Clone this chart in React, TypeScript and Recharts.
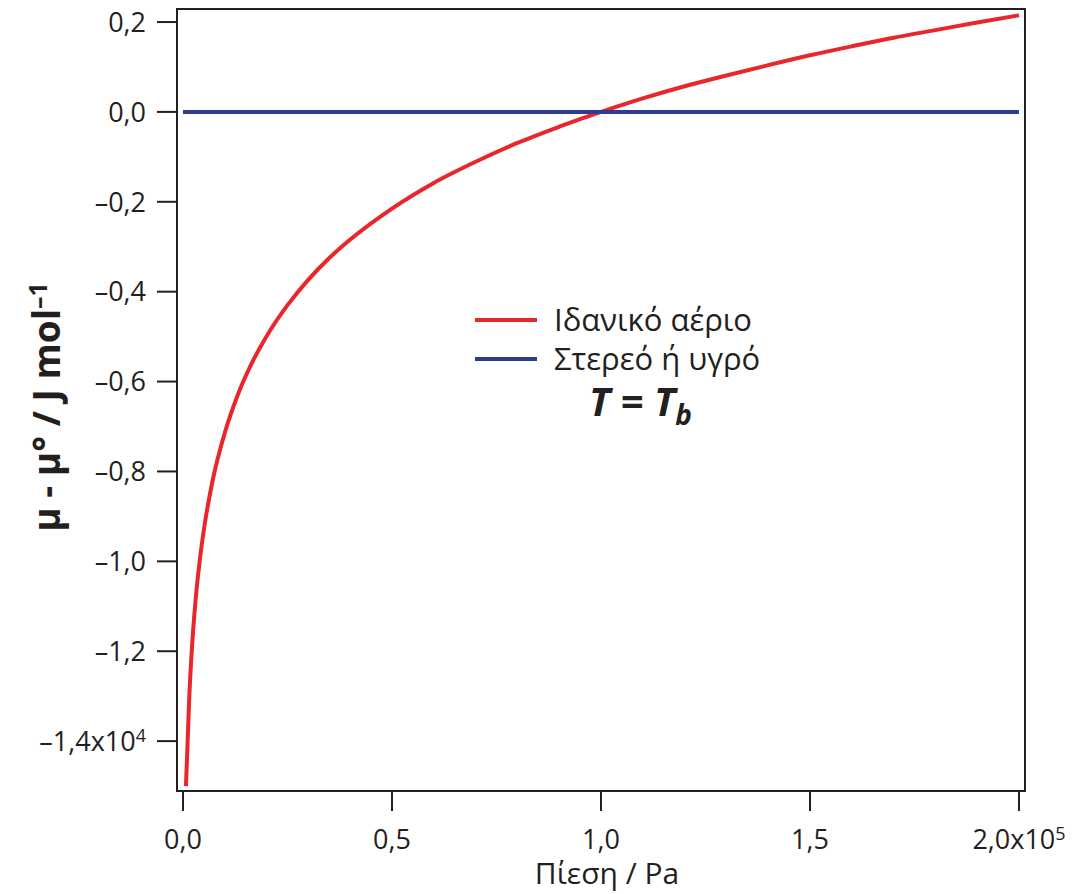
import React from 'react';
import {
  LineChart,
  Line,
  XAxis,
  YAxis,
  Legend
} from 'recharts';

// pressure in units of 10^5 Pa, chemical potential difference in 10^4 J/mol
const gasPressure = [
  0.007, 0.01, 0.015, 0.02, 0.03, 0.04, 0.05, 0.07, 0.1, 0.13, 0.17, 0.2,
  0.25, 0.3, 0.35, 0.4, 0.5, 0.6, 0.7, 0.8, 0.9, 1.0, 1.1, 1.2, 1.3, 1.4,
  1.5, 1.6, 1.7, 1.8, 1.9, 2.0
];
const gasMu = [
  -1.5, -1.428, -1.302, -1.213, -1.087, -0.998, -0.929, -0.824, -0.714,
  -0.632, -0.549, -0.499, -0.43, -0.373, -0.325, -0.284, -0.215, -0.158,
  -0.111, -0.069, -0.033, 0.0, 0.03, 0.057, 0.081, 0.104, 0.126, 0.146,
  0.165, 0.182, 0.199, 0.215
];
const solidPressure = [0.0, 2.0];
const solidMu = [0.0, 0.0];

const xTicks = [0, 0.5, 1.0, 1.5, 2.0];
const yTicks = [-1.4, -1.2, -1.0, -0.8, -0.6, -0.4, -0.2, 0.0, 0.2];

const X_DOMAIN: [number, number] = [-0.0144, 2.0144];
const Y_DOMAIN: [number, number] = [-1.511, 0.229];

const gasData = gasPressure.map((p, i) => ({ p, mu: gasMu[i] }));
const solidData = solidPressure.map((p, i) => ({ p, mu: solidMu[i] }));

const MARGIN = { top: 9, right: 54, left: 77, bottom: 43 };
const FONT = '"Open Sans", "Noto Sans", sans-serif';
const INK = '#231f20';
const RED = '#e8262b';
const BLUE = '#2d3b93';

const fmt = (v: number) => {
  const s = Math.abs(v).toFixed(1).replace('.', ',');
  return v < 0 ? '\u2013' + s : s;
};

const YTick = (props: any) => {
  const { x, y, payload } = props;
  const v = payload.value;
  return (
    <text x={x} y={y} dy="0.36em" textAnchor="end" fill={INK} fontSize={27} fontFamily={FONT}>
      {fmt(v)}
      {v === -1.4 && (
        <>
          x10<tspan dy="-0.5em" fontSize={18}>4</tspan>
        </>
      )}
    </text>
  );
};

const XTick = (props: any) => {
  const { x, y, payload } = props;
  const v = payload.value;
  return (
    <text x={x} y={y} dy="0.36em" textAnchor="middle" fill={INK} fontSize={27} fontFamily={FONT}>
      {fmt(v)}
      {v === 2 && (
        <>
          x10<tspan dy="-0.5em" fontSize={18}>5</tspan>
        </>
      )}
    </text>
  );
};

const YLabel = () => (
  <text
    x={47}
    y={407}
    transform="rotate(-90 47 407)"
    textAnchor="middle"
    dy="0.36em"
    fill={INK}
    fontSize={37}
    fontWeight="bold"
    fontFamily={FONT}
  >
    μ - μ° / J mol<tspan dy="-0.55em" fontSize={25}>–1</tspan>
  </text>
);

const XLabel = () => (
  <text x={607} y={873} dy="0.36em" textAnchor="middle" fill={INK} fontSize={30} fontFamily={FONT}>
    Πίεση / Pa
  </text>
);

const LegendBox = (props: any) => {
  const { payload } = props;
  return (
    <div style={{ fontFamily: FONT, color: INK, width: 340 }}>
      {payload.map((item: any) => (
        <div key={item.value} style={{ display: 'flex', alignItems: 'center', height: 39 }}>
          <svg width={62} height={6}>
            <line x1={0} y1={3} x2={62} y2={3} stroke={item.color} strokeWidth={4} />
          </svg>
          <span style={{ marginLeft: 17, fontSize: 31, lineHeight: '39px' }}>{item.value}</span>
        </div>
      ))}
      <div style={{ marginLeft: 114, marginTop: 2, fontSize: 40, fontWeight: 'bold', fontStyle: 'italic', lineHeight: '42px' }}>
        T = T<sub style={{ fontSize: 28, lineHeight: 0 }}>b</sub>
      </div>
    </div>
  );
};

export default function App() {
  const plotW = 1079 - MARGIN.left - 100 - MARGIN.right;
  const plotH = 894 - MARGIN.top - 60 - MARGIN.bottom;
  return (
    <div style={{ position: 'absolute', left: 0, top: 0, width: 1079, height: 894, background: '#fff' }}>
      <LineChart width={1079} height={894} margin={MARGIN}>
        <XAxis
          dataKey="p"
          type="number"
          domain={X_DOMAIN}
          ticks={xTicks}
          allowDataOverflow
          height={60}
          tickSize={20}
          tickMargin={28}
          tick={<XTick />}
          axisLine={{ stroke: INK, strokeWidth: 2 }}
          tickLine={{ stroke: INK, strokeWidth: 2 }}
          label={<XLabel />}
        />
        <YAxis
          type="number"
          domain={Y_DOMAIN}
          ticks={yTicks}
          allowDataOverflow
          width={100}
          tickSize={20}
          tickMargin={11}
          tick={<YTick />}
          axisLine={{ stroke: INK, strokeWidth: 2 }}
          tickLine={{ stroke: INK, strokeWidth: 2 }}
          label={<YLabel />}
        />
        <Legend
          layout="horizontal"
          verticalAlign="middle"
          align="center"
          wrapperStyle={{ left: 475, top: 300, width: 340 }}
          content={<LegendBox />}
        />
        <Line
          data={gasData}
          dataKey="mu"
          name="Ιδανικό αέριο"
          type="monotone"
          stroke={RED}
          strokeWidth={4}
          dot={false}
          isAnimationActive={false}
        />
        <Line
          data={solidData}
          dataKey="mu"
          name="Στερεό ή υγρό"
          type="linear"
          stroke={BLUE}
          strokeWidth={4}
          dot={false}
          isAnimationActive={false}
        />
      </LineChart>
      {/* frame around the plot area */}
      <div
        style={{
          position: 'absolute',
          left: MARGIN.left + 100 - 1,
          top: MARGIN.top - 1,
          width: plotW + 2,
          height: plotH + 2,
          border: `2px solid ${INK}`,
          boxSizing: 'border-box',
          pointerEvents: 'none'
        }}
      />
    </div>
  );
}
